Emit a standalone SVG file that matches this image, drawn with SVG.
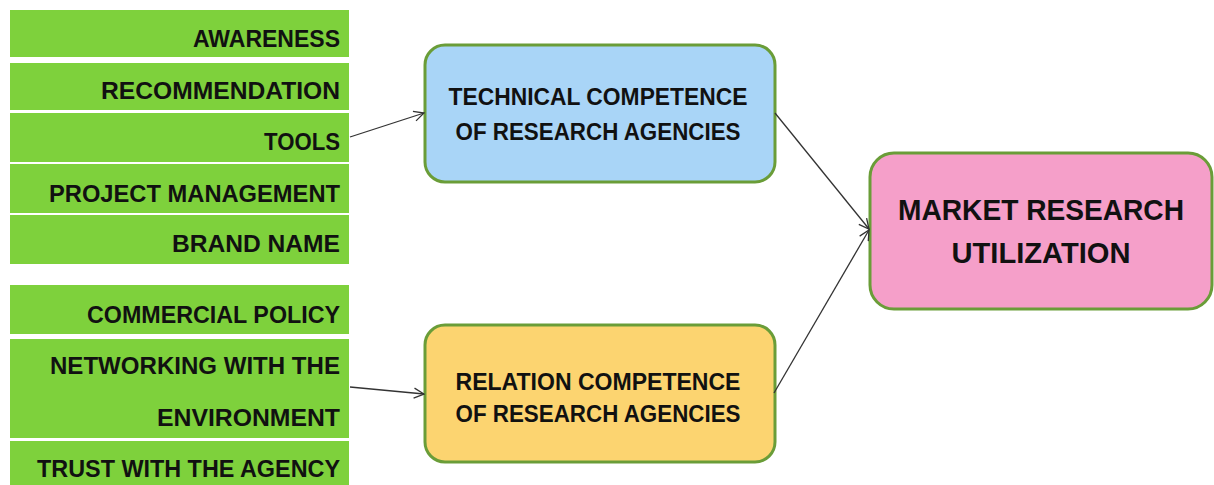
<svg xmlns="http://www.w3.org/2000/svg" width="1214" height="485" viewBox="0 0 1214 485">
<style>
.row{fill:#7ed13c}
.lt{font-family:"Liberation Sans",Arial,sans-serif;font-weight:bold;font-size:24px;fill:#111;text-anchor:end}
.box{stroke:#6a9d38;stroke-width:3}
.bt{font-family:"Liberation Sans",Arial,sans-serif;font-weight:bold;font-size:24px;fill:#111;text-anchor:middle}
.mt{font-family:"Liberation Sans",Arial,sans-serif;font-weight:bold;font-size:30px;fill:#111;text-anchor:middle}
.con{stroke:#333;stroke-width:1.3;fill:none}
</style>
<defs>
<marker id="arr" viewBox="0 0 12 12" refX="11" refY="6" markerWidth="12" markerHeight="12" markerUnits="userSpaceOnUse" orient="auto">
<path d="M1,1 L11,6 L1,11" fill="none" stroke="#333" stroke-width="1.3"/>
</marker>
</defs>
<rect width="1214" height="485" fill="#fff"/>
<g id="factors-technical">
<g id="awareness"><rect class="row" x="10" y="10" width="339" height="47"/><text class="lt" x="340" y="47" textLength="147" lengthAdjust="spacingAndGlyphs">AWARENESS</text></g>
<g id="recommendation"><rect class="row" x="10" y="63" width="339" height="47"/><text class="lt" x="340" y="99" textLength="239" lengthAdjust="spacingAndGlyphs">RECOMMENDATION</text></g>
<g id="tools"><rect class="row" x="10" y="113" width="339" height="49"/><text class="lt" x="340" y="150" textLength="76" lengthAdjust="spacingAndGlyphs">TOOLS</text></g>
<g id="project-management"><rect class="row" x="10" y="164" width="339" height="49"/><text class="lt" x="340" y="202" textLength="291" lengthAdjust="spacingAndGlyphs">PROJECT MANAGEMENT</text></g>
<g id="brand-name"><rect class="row" x="10" y="215" width="339" height="49"/><text class="lt" x="340" y="252" textLength="168" lengthAdjust="spacingAndGlyphs">BRAND NAME</text></g>
</g>
<g id="factors-relation">
<g id="commercial-policy"><rect class="row" x="10" y="285" width="339" height="49"/><text class="lt" x="340" y="323" textLength="253" lengthAdjust="spacingAndGlyphs">COMMERCIAL POLICY</text></g>
<g id="networking"><rect class="row" x="10" y="339" width="339" height="99"/><text class="lt" x="340" y="374" textLength="290" lengthAdjust="spacingAndGlyphs">NETWORKING WITH THE</text><text class="lt" x="340" y="426" textLength="183" lengthAdjust="spacingAndGlyphs">ENVIRONMENT</text></g>
<g id="trust"><rect class="row" x="10" y="441" width="339" height="44"/><text class="lt" x="340" y="477" textLength="303" lengthAdjust="spacingAndGlyphs">TRUST WITH THE AGENCY</text></g>
</g>
<g id="technical-competence"><rect class="box" x="425" y="45" width="350" height="137" rx="20" fill="#a9d5f7"/><text class="bt" x="598" y="105" textLength="299" lengthAdjust="spacingAndGlyphs">TECHNICAL COMPETENCE</text><text class="bt" x="598" y="140" textLength="285" lengthAdjust="spacingAndGlyphs">OF RESEARCH AGENCIES</text></g>
<g id="relation-competence"><rect class="box" x="425" y="325" width="350" height="137" rx="20" fill="#fcd470"/><text class="bt" x="598" y="390" textLength="285" lengthAdjust="spacingAndGlyphs">RELATION COMPETENCE</text><text class="bt" x="598" y="422" textLength="285" lengthAdjust="spacingAndGlyphs">OF RESEARCH AGENCIES</text></g>
<g id="market-research"><rect class="box" x="870" y="153" width="342" height="156" rx="24" fill="#f59fc9"/><text class="mt" x="1041" y="220" textLength="286" lengthAdjust="spacingAndGlyphs">MARKET RESEARCH</text><text class="mt" x="1041" y="263" textLength="179" lengthAdjust="spacingAndGlyphs">UTILIZATION</text></g>
<g id="connectors">
<line class="con" x1="350" y1="137" x2="424" y2="113" marker-end="url(#arr)"/>
<line class="con" x1="350" y1="387" x2="424" y2="394" marker-end="url(#arr)"/>
<line class="con" x1="775" y1="113" x2="869" y2="229" marker-end="url(#arr)"/>
<line class="con" x1="774" y1="393" x2="869" y2="230" marker-end="url(#arr)"/>
</g>
</svg>
